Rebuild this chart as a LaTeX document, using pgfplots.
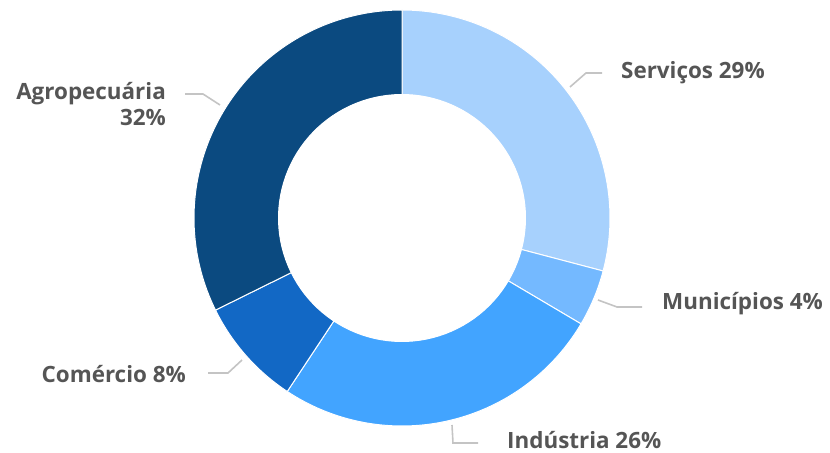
\documentclass[border=0pt]{standalone}
\usepackage{pgfplots}
\usepackage{pgfplotstable}
\pgfplotsset{compat=1.18}
\usepackage{fontspec}
\setmainfont{Open Sans}
\definecolor{cServ}{HTML}{A7D1FD}
\definecolor{cMun}{HTML}{74B9FF}
\definecolor{cInd}{HTML}{42A4FF}
\definecolor{cCom}{HTML}{1268C5}
\definecolor{cAgr}{HTML}{0B4A80}
\definecolor{lbl}{HTML}{555555}
\definecolor{lead}{HTML}{C4C4C4}

\pgfplotstableread[col sep=comma]{
label,value
Serviços,29.1
Municípios,4.4
Indústria,25.8
Comércio,8.4
Agropecuária,32.3
}\sharetable

\begin{document}%
\begin{tikzpicture}
\pgfplotstablegetelem{0}{value}\of\sharetable \let\vA\pgfplotsretval
\pgfplotstablegetelem{1}{value}\of\sharetable \let\vB\pgfplotsretval
\pgfplotstablegetelem{2}{value}\of\sharetable \let\vC\pgfplotsretval
\pgfplotstablegetelem{3}{value}\of\sharetable \let\vD\pgfplotsretval
\pgfplotstablegetelem{4}{value}\of\sharetable \let\vE\pgfplotsretval
\pgfmathsetmacro\aA{90}
\pgfmathsetmacro\aB{\aA-3.6*\vA}
\pgfmathsetmacro\aC{\aB-3.6*\vB}
\pgfmathsetmacro\aD{\aC-3.6*\vC}
\pgfmathsetmacro\aE{\aD-3.6*\vD}
\pgfmathsetmacro\aF{\aE-3.6*\vE}
\path[use as bounding box] (0,0) rectangle (830bp,453bp);
\begin{axis}[
  at={(0,0)}, anchor=south west,
  scale only axis, width=830bp, height=453bp,
  xmin=0, xmax=830, ymin=0, ymax=453,
  hide axis, clip=false,
  every axis plot/.append style={draw=white, line width=1bp, samples=80, variable=\t},
]
\addplot[fill=cServ, domain=\aB:\aA] ({402+208*cos(t)},{235+208*sin(t)}) -- (axis cs:402,235) -- cycle;
\addplot[fill=cMun, domain=\aC:\aB] ({402+208*cos(t)},{235+208*sin(t)}) -- (axis cs:402,235) -- cycle;
\addplot[fill=cInd, domain=\aD:\aC] ({402+208*cos(t)},{235+208*sin(t)}) -- (axis cs:402,235) -- cycle;
\addplot[fill=cCom, domain=\aE:\aD] ({402+208*cos(t)},{235+208*sin(t)}) -- (axis cs:402,235) -- cycle;
\addplot[fill=cAgr, domain=\aF:\aE] ({402+208*cos(t)},{235+208*sin(t)}) -- (axis cs:402,235) -- cycle;
\addplot[fill=white, draw=white, domain=0:360, samples=120] ({402+123.5*cos(t)},{235+123.5*sin(t)}) -- cycle;

\draw[lead, line width=1.6bp] (axis cs:570,366) -- (axis cs:586,380) -- (axis cs:602,380);
\draw[lead, line width=1.6bp] (axis cs:598,153) -- (axis cs:617,146) -- (axis cs:642,146);
\draw[lead, line width=1.6bp] (axis cs:452,28) -- (axis cs:453,10) -- (axis cs:478,10);
\draw[lead, line width=1.6bp] (axis cs:242,93) -- (axis cs:228,80) -- (axis cs:208,80);
\draw[lead, line width=1.6bp] (axis cs:220,348) -- (axis cs:203,359) -- (axis cs:185,359);

\begin{scope}[every node/.style={text=lbl, font=\fontsize{22.5}{26}\selectfont\bfseries, inner sep=0pt}]
\node[anchor=west] at (axis cs:621,380) {Serviços 29\%};
\node[anchor=west] at (axis cs:662,149) {Municípios 4\%};
\node[anchor=west] at (axis cs:507,13) {Indústria 26\%};
\node[anchor=east] at (axis cs:186,79) {Comércio 8\%};
\node[anchor=east, align=right] at (axis cs:166,349) {Agropecuária\\32\%};
\end{scope}
\end{axis}
\end{tikzpicture}%
\end{document}
